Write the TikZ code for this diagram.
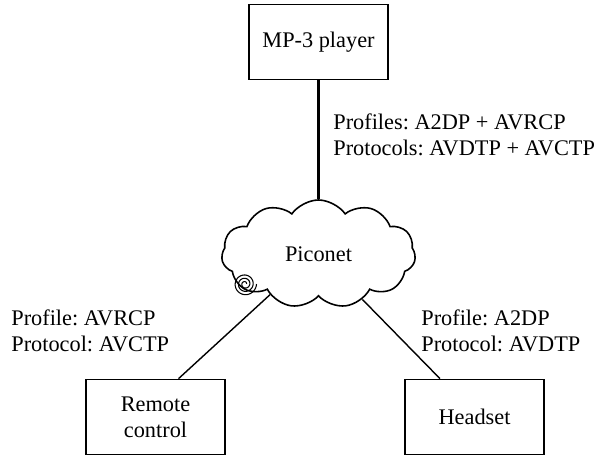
\documentclass[tikz,border=0pt]{standalone}
\usepackage{fontspec}
\setmainfont{Liberation Serif}
\usetikzlibrary{shapes.symbols}
\tikzset{
  device/.style={draw, line width=1pt, minimum width=2.78cm, minimum height=1.5cm, align=center},
  net/.style={cloud, draw, line width=0.9pt, cloud puffs=11, cloud puff arc=110, aspect=1.8, minimum width=3.88cm, minimum height=2.16cm, inner sep=0pt},
  info/.style={align=left, inner sep=0pt, anchor=west},
  link/.style={line width=0.8pt},
}
\begin{document}
\frenchspacing
\begin{tikzpicture}[font=\fontsize{12.7}{14.8}\selectfont]
\useasboundingbox (0,0) rectangle (11.96,9.12);
\node[device] (mp3) at (6.37,8.28) {MP-3 player};
\node[net] (piconet) at (6.37,4.04) {Piconet};
\node[device] (remote) at (3.11,0.78) {Remote\\control};
\node[device] (headset) at (9.49,0.78) {Headset};
% labels of the links
\node[info] (mp3info) at (6.66,6.42) {Profiles: A2DP + AVRCP\\Protocols: AVDTP + AVCTP};
\node[info] (remoteinfo) at (0.22,2.5) {Profile: AVRCP\\Protocol: AVCTP};
\node[info] (headsetinfo) at (8.42,2.5) {Profile: A2DP\\Protocol: AVDTP};
% links
\draw[line width=1.3pt] (mp3.south) -- (piconet.north);
\draw[link] (piconet.220) -- (remote.59);
\draw[link] (piconet.314) -- (headset.132);
% spiral
\draw[line width=0.6pt] plot[domain=0:1080, samples=140, smooth, variable=\t]
  ({4.9+(0.03+0.2*\t/1080)*cos(\t)}, {3.44+(0.03+0.2*\t/1080)*sin(\t)});
\end{tikzpicture}
\end{document}
